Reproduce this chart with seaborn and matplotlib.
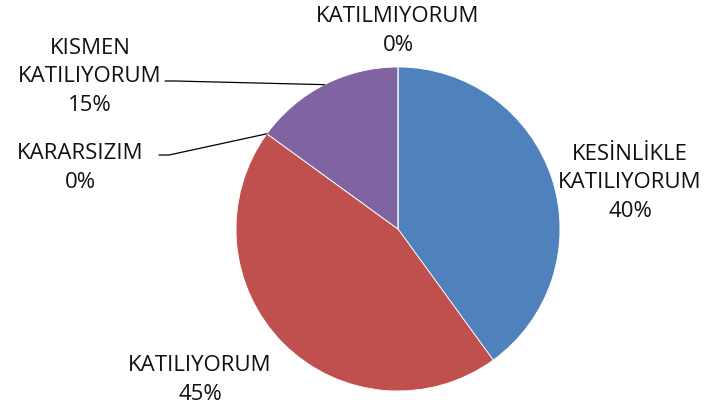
import numpy as np
import seaborn as sns
import matplotlib.pyplot as plt

# answer categories and shares (percent)
categories = ['KESİNLİKLE\nKATILIYORUM', 'KATILIYORUM', 'KARARSIZIM',
              'KISMEN\nKATILIYORUM', 'KATILMIYORUM']
shares = [40, 45, 0, 15, 0]
colors = ['#4F81BD', '#C0504D', '#9BBB59', '#8064A2', '#4BACC6']

sns.set_theme(style='white')
plt.rcParams['font.family'] = ['Open Sans', 'DejaVu Sans']

fig = plt.figure(figsize=(7.08, 4.14), dpi=100)
ax = fig.add_axes([0, 0, 1, 1])

cx, cy, r = 398, 184, 162
wedges, _ = ax.pie(shares, colors=sns.color_palette(colors), startangle=90,
                   counterclock=False, center=(cx, cy), radius=r,
                   wedgeprops=dict(edgecolor='white', linewidth=0.6))
ax.set_xlim(0, 708)
ax.set_ylim(0, 414)
ax.set_aspect('equal')
ax.axis('off')

# label block centres as offsets from pie centre (layout only)
label_off = [(232, 47), (-198, -150), (-318, 62), (-308, 153), (0, 199)]
leader = [False, False, True, True, False]

for w, cat, val, off, ld in zip(wedges, categories, shares, label_off, leader):
    mid = np.deg2rad((w.theta1 + w.theta2) / 2)
    tx, ty = cx + off[0], cy + off[1]
    ax.text(tx, ty, f'{cat}\n{val}%', ha='center', va='center',
            fontsize=16, color='#111111', linespacing=1.45)
    if ld:
        ex, ey = cx + r * np.cos(mid), cy + r * np.sin(mid)
        nlines = cat.count('\n') + 1
        sx = tx + 75 if nlines > 1 else tx + 79
        sy = ty - 5 if nlines > 1 else ty + 12
        ax.plot([sx, sx + 10, ex], [sy, sy, ey], color='black', lw=0.9)

fig.savefig('out.png', dpi=100)
